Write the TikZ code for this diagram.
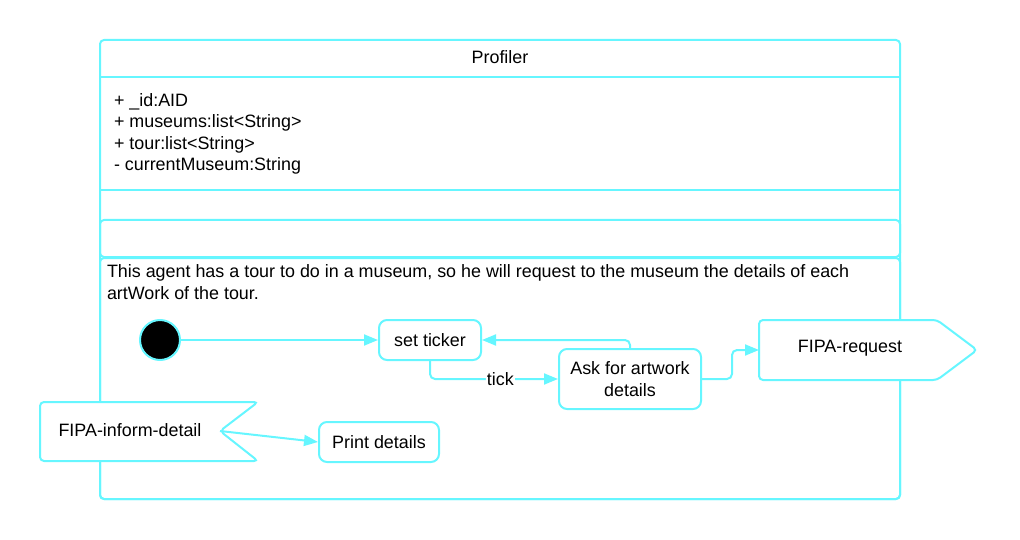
\documentclass[tikz,border=0pt]{standalone}
\usepackage{fontspec}
\setmainfont{Liberation Sans}
\usetikzlibrary{arrows.meta}
\definecolor{umlcyan}{RGB}{102,246,255}

\begin{document}
\begin{tikzpicture}[x=1pt, y=-1pt, line width=2pt, font=\fontsize{17.9}{21.3}\selectfont,
	frame/.style={draw=umlcyan, rounded corners=4pt},
	state/.style={draw=umlcyan, rounded corners=8pt, align=center, inner sep=0pt, minimum height=40pt},
	signal/.style={draw=umlcyan, fill=white, rounded corners=4pt},
	flow/.style={draw=umlcyan, -{Triangle[length=14pt,width=11pt]}, rounded corners=5pt}]
	\useasboundingbox (0,0) rectangle (1020,540);
	% class frame
	\draw[frame] (100,40) rectangle (900,499);
	\draw[umlcyan] (100,77) -- (900,77);
	\draw[umlcyan] (100,190) -- (900,190);
	\draw[frame] (100,220) rectangle (900,257);
	\draw[frame] (100,258) rectangle (900,499);
	\node (title) at (500,57) {Profiler};
	\node[anchor=west, align=left, inner sep=0pt] (attrs) at (113,134) {+ \_id:AID\\+ museums:list<String>\\+ tour:list<String>\\- currentMuseum:String};
	\node[anchor=west, align=left, inner sep=0pt] (note) at (106,282) {This agent has a tour to do in a museum, so he will request to the museum the details of each\\artWork of the tour.};
	% signals
	\draw[signal] (759,320) -- (937,320) -- (977,350) -- (937,380) -- (759,380) -- cycle;
	\node[minimum width=178pt, minimum height=60pt, inner sep=0pt] (req) at (850,348) {FIPA-request};
	\draw[signal] (40,402) -- (258,402) -- (220,431) -- (258,461) -- (40,461) -- cycle;
	\node (inform) at (130,430) {FIPA-inform-detail};
	\coordinate (notch) at (220,431);
	% states
	\node[circle, fill=black, draw=umlcyan, minimum size=40pt, inner sep=0pt] (init) at (160,340) {};
	\node[state, minimum width=102pt] (ticker) at (430,340) {set ticker};
	\node[state, minimum width=142pt, minimum height=60pt] (ask) at (630,379) {Ask for artwork\\details};
	\node[state, minimum width=120pt] (print) at (379,442) {Print details};
	% transitions
	\draw[flow] (init) -- (ticker);
	\draw[flow] (ask.north) |- (ticker.east);
	\draw[flow] (ticker.south) |- node[pos=0.775, fill=white, inner sep=1pt] {tick} (ask.west);
	\draw[flow] (ask.east) -- ++(30,0) |- (759,350);
	\draw[flow] (notch) -- (print.west);
\end{tikzpicture}
\end{document}
